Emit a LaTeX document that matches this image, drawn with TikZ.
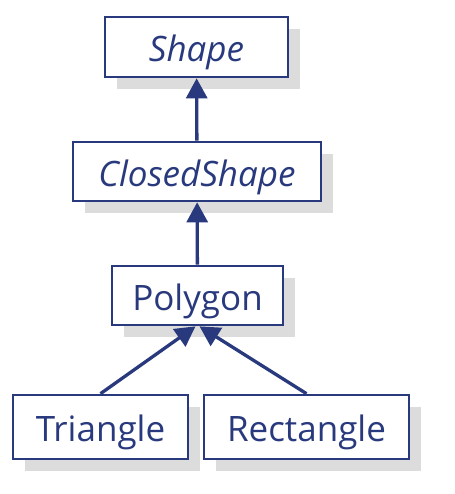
\documentclass[tikz,border=0pt]{standalone}
\usepackage{fontspec}
\setmainfont{Open Sans}
\usetikzlibrary{arrows.meta,shadows}
\definecolor{umlblue}{RGB}{41,57,125}
\definecolor{umlshadow}{RGB}{220,220,220}
\tikzset{>={Triangle[width=21pt,length=20pt]}}

\begin{document}
\begin{tikzpicture}[x=1pt, y=-1pt,
    every node/.style={draw=umlblue, line width=2.7pt, fill=white, rectangle, align=center,
        text=umlblue, font=\fontsize{35}{40}\selectfont, inner sep=0pt,
        text height=29pt, text depth=0pt,
        drop shadow={shadow xshift=12pt, shadow yshift=-12pt, fill=umlshadow, opacity=1}},
    abstract/.style={font=\fontsize{35}{40}\selectfont\itshape},
    link/.style={->, draw=umlblue, line width=3.3pt}]
    \useasboundingbox (0,0) rectangle (454,494);
    % Nodes
    \node (Shape) [abstract, minimum width=183pt, minimum height=60pt] at (196.5,47) {Shape};
    \node (Closed) [abstract, minimum width=248pt, minimum height=59pt] at (197,171.5) {ClosedShape};
    \node (Poly) [minimum width=171pt, minimum height=59pt] at (197.5,295.5) {Polygon};
    \node (Tri) [minimum width=175pt, minimum height=64pt] at (100.5,427) {Triangle};
    \node (Rect) [minimum width=205pt, minimum height=64pt] at (306.5,427) {Rectangle};

    % Arrows
    \draw[link] (Closed) -- (Shape);
    \draw[link] (Poly) -- (Closed);
    \draw[link] (Tri.north) -- ([xshift=-2pt]Poly.south);
    \draw[link] (Rect.north) -- ([xshift=2pt]Poly.south);
\end{tikzpicture}
\end{document}
